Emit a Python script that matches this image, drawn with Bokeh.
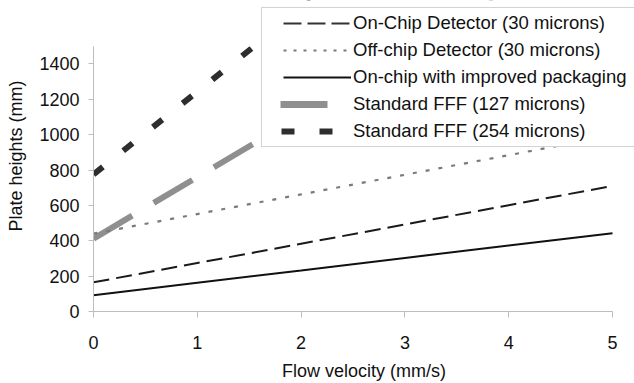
from bokeh.plotting import figure
from bokeh.models import Range1d, FixedTicker, Legend, LegendItem, BoxAnnotation
from bokeh.embed import file_html
from bokeh.resources import INLINE

# Flow velocity (mm/s)
velocity = [0, 1, 2, 3, 4, 5]

# Plate heights (mm) per configuration
on_chip_detector = [165, 274, 383, 492, 601, 710]
off_chip_detector = [440, 551, 662, 773, 884, 995]
on_chip_improved = [92, 162, 232, 303, 373, 443]
standard_fff_127 = [412, 760, 1108, 1456, 1804, 2152]
standard_fff_254 = [775, 1243, 1711, 2179, 2647, 3115]

series_labels = [
    "On-Chip Detector (30 microns)",
    "Off-chip Detector (30 microns)",
    "On-chip with improved packaging",
    "Standard FFF (127 microns)",
    "Standard FFF (254 microns)",
]

x_ticks = [0, 1, 2, 3, 4, 5]
y_ticks = [0, 200, 400, 600, 800, 1000, 1200, 1400]
x_axis_max = 5
y_axis_max = 1500

FONT = "Liberation Sans"
AXIS_GREY = "#bdbdbd"

# Canvas geometry (pixels): the frame fills the canvas to the top/right so the
# legend can overhang the axes; the axes themselves stop at their own bounds.
W, H = 634, 383
FRAME_LEFT, FRAME_BOTTOM = 93, 313
AXIS_RIGHT_PX, AXIS_TOP_PX = 612, 46
x_end = x_axis_max * (W - FRAME_LEFT) / (AXIS_RIGHT_PX - FRAME_LEFT)
y_end = y_axis_max * FRAME_BOTTOM / (FRAME_BOTTOM - AXIS_TOP_PX)

p = figure(
    width=W, height=H,
    output_backend="svg", toolbar_location=None,
    x_range=Range1d(0, x_end), y_range=Range1d(0, y_end),
    min_border_left=FRAME_LEFT, min_border_right=0,
    min_border_top=0, min_border_bottom=H - FRAME_BOTTOM,
    background_fill_color="white", border_fill_color="white",
)
p.outline_line_color = None
p.xgrid.visible = False
p.ygrid.visible = False

for ax in (p.xaxis[0], p.yaxis[0]):
    ax.axis_line_color = AXIS_GREY
    ax.major_tick_line_color = AXIS_GREY
    ax.minor_tick_line_color = None
    ax.major_tick_in = 0
    ax.major_label_text_font = FONT
    ax.major_label_text_font_size = "18px"
    ax.major_label_text_color = "#111111"
    ax.axis_label_text_font = FONT
    ax.axis_label_text_font_size = "18px"
    ax.axis_label_text_font_style = "normal"
    ax.axis_label_text_color = "#111111"

p.xaxis.bounds = (0, x_axis_max)
p.yaxis.bounds = (0, y_axis_max)
p.xaxis.ticker = FixedTicker(ticks=x_ticks)
p.yaxis.ticker = FixedTicker(ticks=y_ticks)
p.xaxis.major_tick_out = 6
p.yaxis.major_tick_out = 5
p.xaxis.major_label_standoff = 18
p.yaxis.major_label_standoff = 9
p.xaxis.axis_label = "Flow velocity (mm/s)"
p.yaxis.axis_label = "Plate heights (mm)"
p.xaxis.axis_label_standoff = 9
p.yaxis.axis_label_standoff = 10

# Data lines
p.line(velocity, standard_fff_127, line_color="#8f8f8f", line_width=6, line_dash="45 25")
p.line(velocity, standard_fff_254, line_color="#2e2e2e", line_width=6, line_dash="12 26")
p.line(velocity, off_chip_detector, line_color="#7a7a7a", line_width=2.2, line_dash="4 9")
p.line(velocity, on_chip_detector, line_color="#1a1a1a", line_width=2, line_dash="16 7")
p.line(velocity, on_chip_improved, line_color="#111111", line_width=2)

# White mask above the top of the value axis
p.add_layout(BoxAnnotation(bottom=y_axis_max, fill_color="white", fill_alpha=1.0,
                           line_alpha=0))

# Legend swatches: single-point renderers (draw nothing) carrying the sample styles
swatches = [
    dict(line_color="#333333", line_width=2, line_dash="0 17 18 6 18 6 18 100"),
    dict(line_color="#7a7a7a", line_width=2, line_dash="0 17 3 7 3 7 3 7 3 7 3 7 3 7 3 100"),
    dict(line_color="#111111", line_width=2, line_dash="0 17 68 100"),
    dict(line_color="#8f8f8f", line_width=7, line_dash="0 14 47 100"),
    dict(line_color="#2e2e2e", line_width=6, line_dash="0 15 13 25 13 100"),
]
items = []
for label, style in zip(series_labels, swatches):
    r = p.line(x=[0], y=[float("nan")], **style)
    items.append(LegendItem(label=label, renderers=[r]))

legend = Legend(
    items=items,
    location=(168, 164),
    padding=4, spacing=5, margin=0,
    glyph_width=85, glyph_height=22, label_height=22,
    label_standoff=2, label_width=300,
    label_text_font=FONT, label_text_font_size="18.5px",
    label_text_color="#111111",
    border_line_color="#a8a8a8", border_line_width=1,
    background_fill_color="white", background_fill_alpha=1.0,
)
p.add_layout(legend)

open("out.html", "w").write(file_html(p, INLINE))
